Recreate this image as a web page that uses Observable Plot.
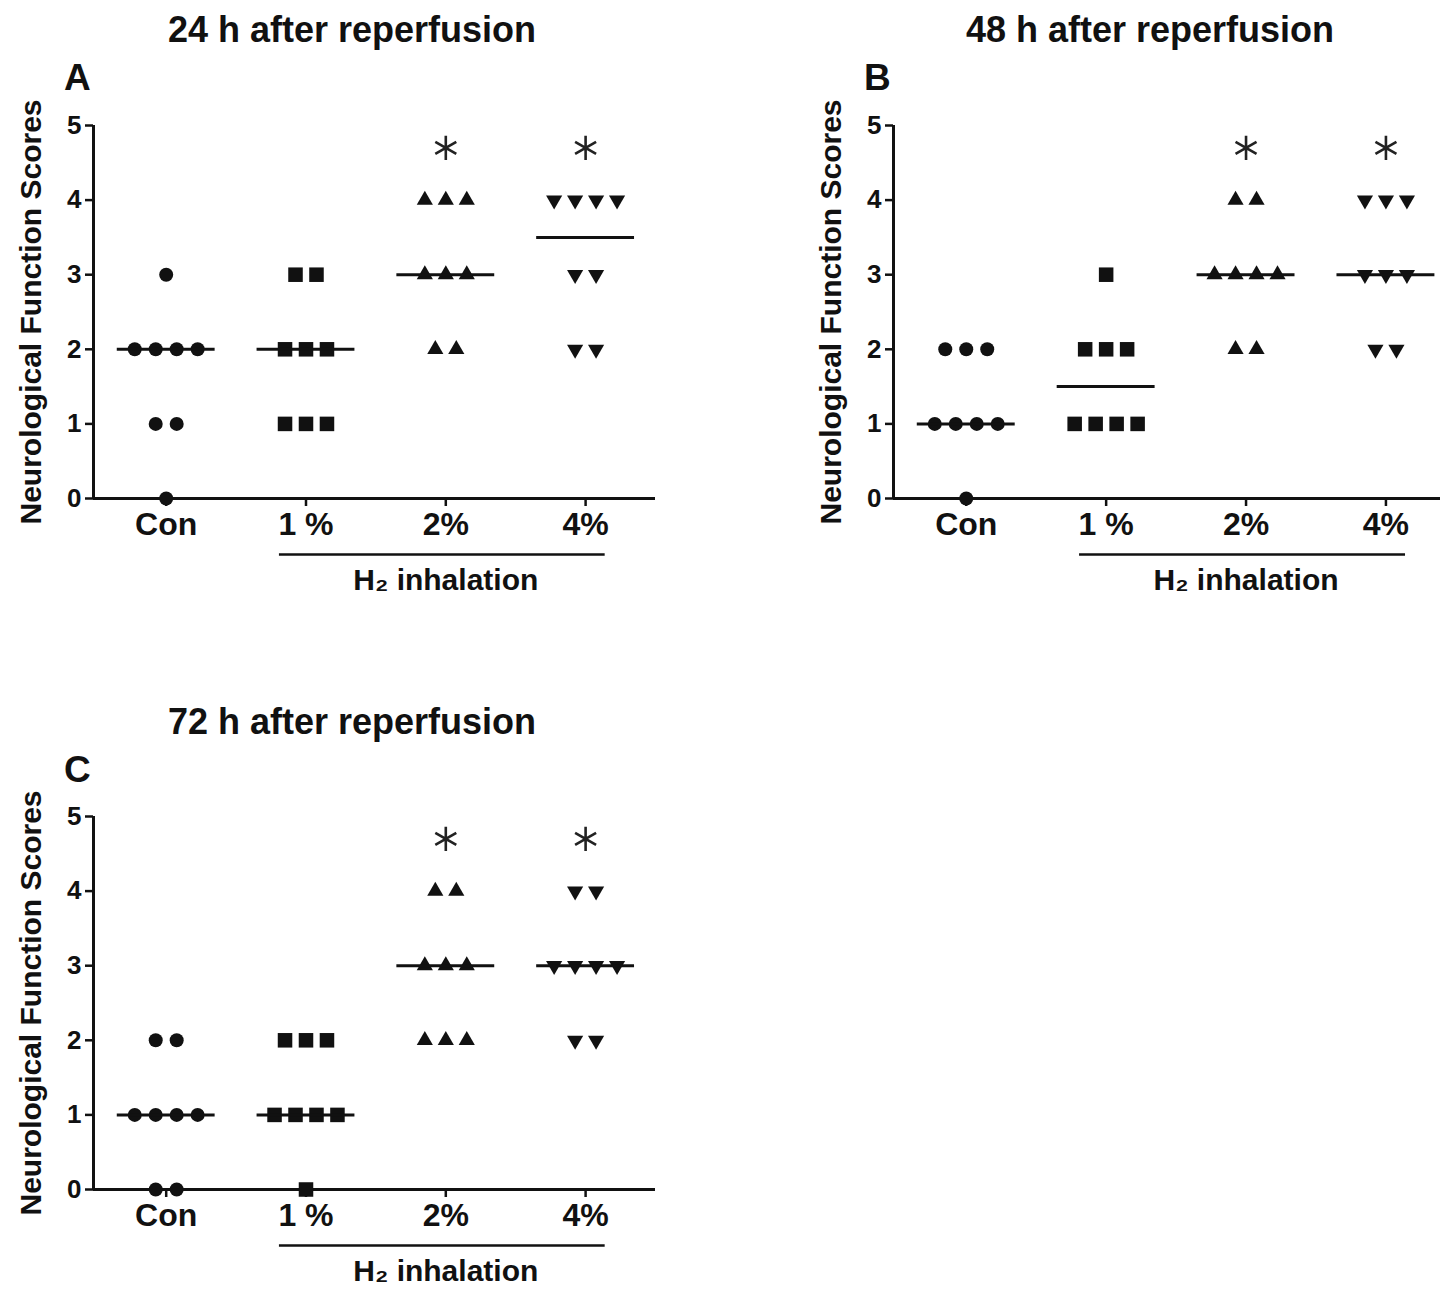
<!DOCTYPE html>
<html>
<head>
<meta charset="utf-8">
<script src="https://cdn.jsdelivr.net/npm/d3@7"></script>
<script src="https://cdn.jsdelivr.net/npm/@observablehq/plot@0.6"></script>
<style>
  html, body { margin: 0; padding: 0; background: #fff; }
  #root { position: relative; width: 1444px; height: 1292px; overflow: hidden; font-family: "Liberation Sans", Arial, sans-serif; font-weight: bold; color: #111; }
  .panel { position: absolute; }
  .title { position: absolute; font-size: 36px; white-space: nowrap; transform: translate(-50%, -50%); }
  .letter { position: absolute; font-size: 37px; transform: translate(0, -50%); }
</style>
</head>
<body>
<div id="root"></div>
<script>
// ---- data ----
const groups = ["Con", "1 %", "2%", "4%"];
const yTicks = [0, 1, 2, 3, 4, 5];
const scores24h = [
  [3, 2, 2, 2, 2, 1, 1, 0],
  [3, 3, 2, 2, 2, 1, 1, 1],
  [4, 4, 4, 3, 3, 3, 2, 2],
  [4, 4, 4, 4, 3, 3, 2, 2]
];
const scores48h = [
  [2, 2, 2, 1, 1, 1, 1, 0],
  [3, 2, 2, 2, 1, 1, 1, 1],
  [4, 4, 3, 3, 3, 3, 2, 2],
  [4, 4, 4, 3, 3, 3, 2, 2]
];
const scores72h = [
  [2, 2, 1, 1, 1, 1, 0, 0],
  [2, 2, 2, 1, 1, 1, 1, 0],
  [4, 4, 3, 3, 3, 2, 2, 2],
  [4, 4, 3, 3, 3, 3, 2, 2]
];
const significantGroups = ["2%", "4%"];
const inhalationGroups = ["1 %", "2%", "4%"];
const panelTitles = ["24 h after reperfusion", "48 h after reperfusion", "72 h after reperfusion"];
const panelLetters = ["A", "B", "C"];
const yLabel = "Neurological Function Scores";
const bracketLabel = "H\u2082 inhalation";

// ---- layout / styles ----
const FONT = '"Liberation Sans", Arial, sans-serif';
const triangleDown = {
  draw(ctx, size) {
    const y = -Math.sqrt(size / (Math.sqrt(3) * 3));
    ctx.moveTo(0, -y * 2);
    ctx.lineTo(-Math.sqrt(3) * y, y);
    ctx.lineTo(Math.sqrt(3) * y, y);
    ctx.closePath();
  }
};
const groupSymbols = ["circle", "square", "triangle", triangleDown];
const groupRadius = [7, 8.2, 6, 6];

function makePanel(scores, xMax, width, marginRight) {
  const spacing = 0.15;
  const pts = [];
  scores.forEach((vals, gi) => {
    const counts = d3.rollup(vals, v => v.length, v => v);
    for (const [v, n] of counts) {
      for (let k = 0; k < n; k++) pts.push({gi, score: v, x: gi + (k - (n - 1) / 2) * spacing});
    }
  });
  const medians = scores.map((vals, gi) => ({gi, m: d3.median(vals)}));
  const sig = significantGroups.map(g => ({gi: groups.indexOf(g)}));
  const inh = inhalationGroups.map(g => groups.indexOf(g));
  const xMin = -0.52;
  return Plot.plot({
    width,
    height: 620,
    marginTop: 125,
    marginBottom: 122,
    marginLeft: 93,
    marginRight,
    x: {domain: [xMin, xMax]},
    y: {domain: [0, 5]},
    style: {fontFamily: FONT, fontWeight: "bold", color: "#111", background: "white", overflow: "visible"},
    marks: [
      Plot.axisY({ticks: yTicks, tickFormat: "d", tickSize: 8, tickPadding: 4, strokeWidth: 2.5, fontSize: 26, label: null}),
      Plot.axisX({ticks: groups.map((g, i) => i), tickFormat: i => groups[i], tickSize: 8, tickPadding: 6, strokeWidth: 2.5, fontSize: 32, label: null}),
      Plot.ruleX([xMin], {y1: 0, y2: 5, strokeWidth: 3}),
      Plot.ruleY([0], {x1: xMin, x2: xMax, strokeWidth: 3}),
      Plot.text([yLabel], {frameAnchor: "left", textAnchor: "middle", dx: -62, rotate: -90, fontSize: 30, text: d => d}),
      ...groups.map((g, gi) => Plot.dot(pts.filter(p => p.gi === gi), {x: "x", y: "score", symbol: () => groupSymbols[gi], r: groupRadius[gi], fill: "#111", stroke: "none"})),
      Plot.ruleY(medians, {y: "m", x1: d => d.gi - 0.35, x2: d => d.gi + 0.35, strokeWidth: 3, stroke: "#111"}),
      Plot.dot(sig, {x: "gi", y: 4.7, symbol: "asterisk", r: 11.5, stroke: "#222", strokeWidth: 2.6}),
      Plot.ruleY([-0.75], {x1: d3.min(inh) - 0.19, x2: d3.max(inh) + 0.14, strokeWidth: 2.5}),
      Plot.text([bracketLabel], {x: (d3.min(inh) + d3.max(inh)) / 2, y: -1.1, fontSize: 30, text: d => d})
    ]
  });
}

const root = document.getElementById("root");
const panels = [
  {scores: scores24h, left: 0, top: 0, xMax: 3.5, width: 720, marginRight: 65, titleX: 352, titleY: 30, letterX: 64, letterY: 78},
  {scores: scores48h, left: 800, top: 0, xMax: 3.39, width: 644, marginRight: 4, titleX: 1150, titleY: 30, letterX: 864, letterY: 78},
  {scores: scores72h, left: 0, top: 691, xMax: 3.5, width: 720, marginRight: 65, titleX: 352, titleY: 722, letterX: 64, letterY: 770}
];
panels.forEach((p, i) => {
  const wrap = document.createElement("div");
  wrap.className = "panel";
  wrap.style.left = p.left + "px";
  wrap.style.top = p.top + "px";
  wrap.appendChild(makePanel(p.scores, p.xMax, p.width, p.marginRight));
  root.appendChild(wrap);
  const t = document.createElement("div");
  t.className = "title";
  t.style.left = p.titleX + "px";
  t.style.top = p.titleY + "px";
  t.textContent = panelTitles[i];
  root.appendChild(t);
  const l = document.createElement("div");
  l.className = "letter";
  l.style.left = p.letterX + "px";
  l.style.top = p.letterY + "px";
  l.textContent = panelLetters[i];
  root.appendChild(l);
});
</script>
</body>
</html>
